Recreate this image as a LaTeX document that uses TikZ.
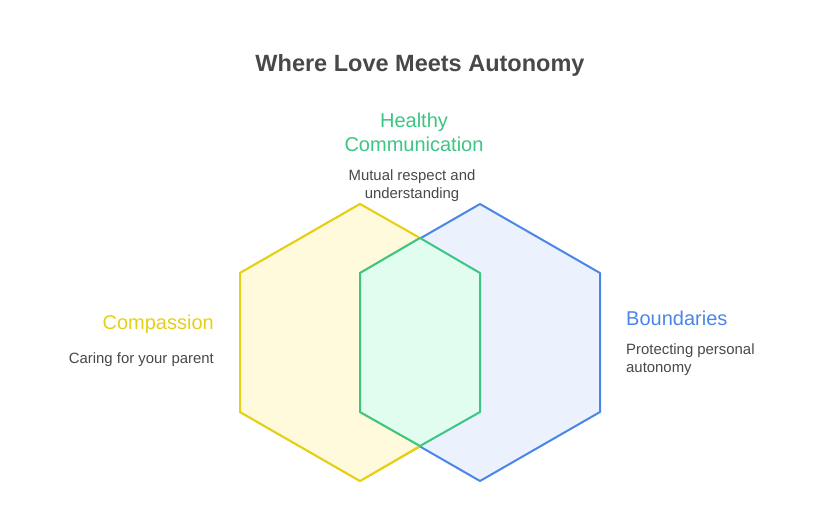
\documentclass[tikz,border=0pt]{standalone}
\usepackage{fontspec}
\setmainfont{Liberation Sans}
\usetikzlibrary{positioning}
\definecolor{yellowline}{HTML}{E6CF17}
\definecolor{yellowfill}{HTML}{FFFADB}
\definecolor{blueline}{HTML}{4A86E8}
\definecolor{bluefill}{HTML}{EBF2FD}
\definecolor{greenline}{HTML}{3CC583}
\definecolor{greenfill}{HTML}{E1FDEF}
\definecolor{inktext}{HTML}{484848}
\tikzset{
  heading/.style={font=\fontsize{23.5}{28}\selectfont\bfseries, text=inktext, inner sep=0pt},
  title/.style={font=\fontsize{20}{24}\selectfont, inner sep=0pt},
  caption/.style={font=\fontsize{14.9}{18}\selectfont, text=inktext, inner sep=0pt},
  hexline/.style={line width=2pt, line join=round},
}
\begin{document}
\begin{tikzpicture}[x=1pt,y=-1pt]
    \useasboundingbox (0,0) rectangle (840,504);
    % Hexagons
    \coordinate (a1) at (360,204);
    \coordinate (a2) at (480,273);
    \coordinate (a3) at (480,412);
    \coordinate (a4) at (360,481);
    \coordinate (a5) at (240,412);
    \coordinate (a6) at (240,273);
    \coordinate (b1) at (480,204);
    \coordinate (b2) at (600,273);
    \coordinate (b3) at (600,412);
    \coordinate (b4) at (480,481);
    \coordinate (b5) at (360,412);
    \coordinate (b6) at (360,273);
    \coordinate (c1) at (420,238);
    \coordinate (c2) at (420,446);
    \filldraw[draw=yellowline, fill=yellowfill, hexline] (a1) -- (a2) -- (a3) -- (a4) -- (a5) -- (a6) -- cycle;
    \filldraw[draw=blueline, fill=bluefill, hexline] (b1) -- (b2) -- (b3) -- (b4) -- (b5) -- (b6) -- cycle;
    \filldraw[draw=yellowline, fill=yellowfill, hexline] (a5) -- (a6) -- (a1) -- (c1) -- (b6) -- (b5) -- (c2) -- (a4) -- cycle;
    \filldraw[draw=greenline, fill=greenfill, hexline] (c1) -- (a2) -- (a3) -- (c2) -- (b5) -- (b6) -- cycle;

    % Text
    \node[heading] (head) at (420,65) {Where Love Meets Autonomy};
    \node[title, text=greenline, align=center] (commtitle) at (414,132) {Healthy\\Communication};
    \node[caption, align=center] (commtext) at (412,186) {Mutual respect and\\understanding};
    \node[title, text=yellowline, anchor=east] (comptitle) at (214,324) {Compassion};
    \node[caption, anchor=east] (comptext) at (214,360) {Caring for your parent};
    \node[title, text=blueline, anchor=west] (boundtitle) at (626,318) {Boundaries};
    \node[caption, align=left, anchor=west] (boundtext) at (626,360) {Protecting personal\\autonomy};
\end{tikzpicture}
\end{document}
